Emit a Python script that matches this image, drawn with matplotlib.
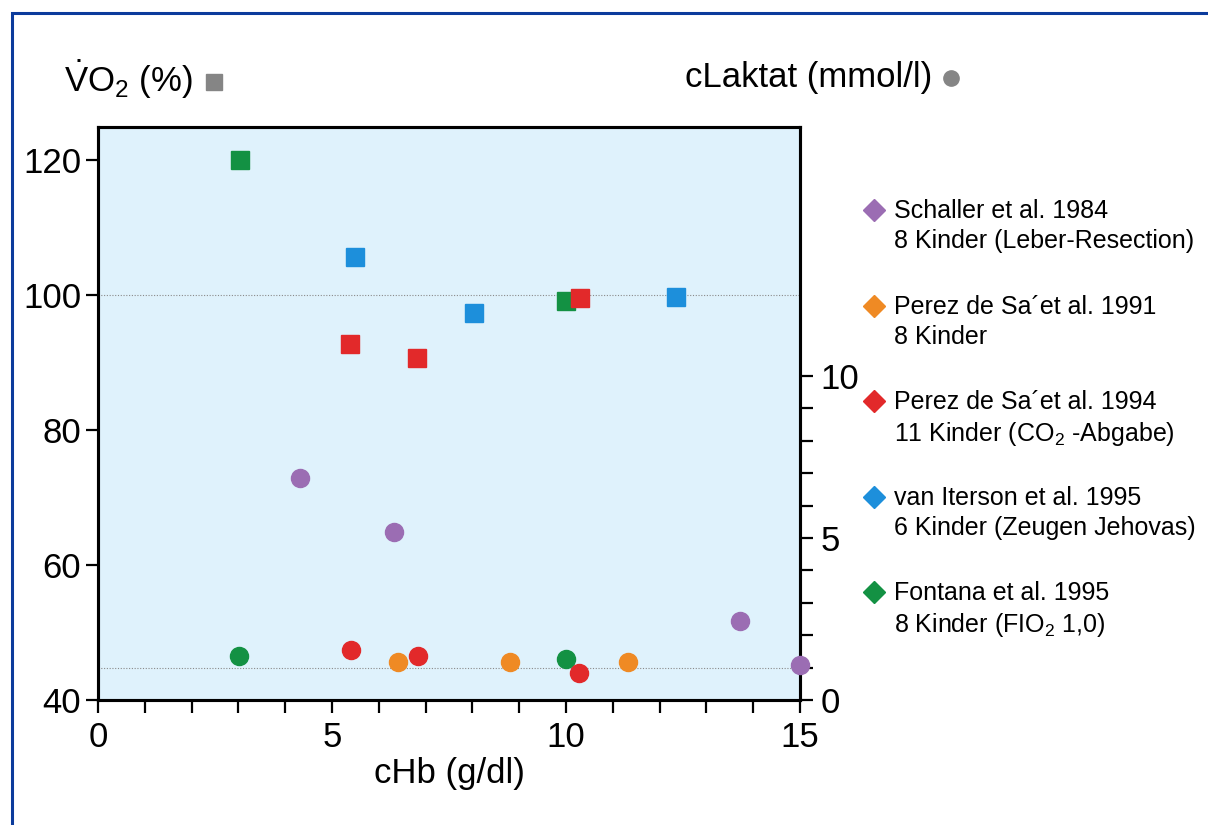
import matplotlib
matplotlib.use('Agg')
import matplotlib.pyplot as plt
from matplotlib.patches import Rectangle
from matplotlib.ticker import MultipleLocator, FixedLocator

plt.rcParams['font.family'] = ['Liberation Sans', 'DejaVu Sans']
plt.rcParams['mathtext.fontset'] = 'custom'
plt.rcParams['mathtext.rm'] = 'Liberation Sans'
plt.rcParams['mathtext.it'] = 'Liberation Sans'

# studies (legend order) and colours
studies = ['Schaller et al. 1984\n8 Kinder (Leber-Resection)',
           'Perez de Sa\u00b4et al. 1991\n8 Kinder',
           'Perez de Sa\u00b4et al. 1994\n11 Kinder (CO$_2$ -Abgabe)',
           'van Iterson et al. 1995\n6 Kinder (Zeugen Jehovas)',
           'Fontana et al. 1995\n8 Kinder (FIO$_2$ 1,0)']
colors = ['#9b6db3', '#ef8a24', '#e2292a', '#1d8fdb', '#139143']

# VO2 (%) vs cHb, squares, left axis  -> study index
vo2_study = [4, 3, 2, 2, 3, 4, 2, 3]
vo2_hb = [3.03, 5.5, 5.38, 6.82, 8.03, 10.0, 10.3, 12.35]
vo2_val = [120.0, 105.6, 92.7, 90.6, 97.4, 99.1, 99.5, 99.7]

# lactate (mmol/l) vs cHb, circles, right axis
lac_study = [0, 0, 0, 0, 4, 2, 1, 2, 1, 4, 2, 1]
lac_hb = [4.32, 6.32, 13.72, 15.0, 3.01, 5.41, 6.41, 6.84, 8.8, 10.0, 10.28, 11.32]
lac_val = [6.85, 5.2, 2.45, 1.08, 1.36, 1.55, 1.17, 1.36, 1.17, 1.27, 0.83, 1.17]

fig = plt.figure(figsize=(12.08, 8.25), dpi=100)
W, H = 1208, 825

# dark blue frame (left and top edges visible)
fig.patches.append(Rectangle((12 / W, -0.05), 1.1, 1 - 13 / H + 0.05,
                             transform=fig.transFigure, fill=False,
                             edgecolor='#0b3b9c', linewidth=2.2))

ax = fig.add_axes([98 / W, 1 - 700 / H, 702 / W, 573 / H])
ax.set_facecolor('#dff2fc')
ax.set_xlim(0, 15)
ax.set_ylim(40, 124.9)

ax.axhline(100, color='#8a8a8a', lw=0.8, ls=(0, (1, 1.5)), zorder=1)

for s, x, y in zip(vo2_study, vo2_hb, vo2_val):
    ax.plot(x, y, 's', ms=12.5, color=colors[s], mec=colors[s], zorder=3)

ax.xaxis.set_major_locator(MultipleLocator(5))
ax.xaxis.set_minor_locator(MultipleLocator(1))
ax.yaxis.set_major_locator(FixedLocator([40, 60, 80, 100, 120]))
ax.tick_params(axis='both', which='both', direction='out', width=1.6,
               length=9, labelsize=25, color='black')
ax.tick_params(axis='x', which='major', pad=6)
ax.tick_params(axis='y', pad=3)
for sp in ax.spines.values():
    sp.set_linewidth(2.2)
ax.set_xlabel('cHb (g/dl)', fontsize=25, labelpad=2)

ax2 = ax.twinx()
ax2.set_ylim(0, (700 - 127) / 32.4)
ax2.axhline(1.0, color='#8a8a8a', lw=0.8, ls=(0, (1, 1.5)), zorder=1)
for s, x, y in zip(lac_study, lac_hb, lac_val):
    ax2.plot(x, y, 'o', ms=13, color=colors[s], mec=colors[s], zorder=3,
             clip_on=False)
ax2.yaxis.set_major_locator(FixedLocator([0, 5, 10]))
ax2.yaxis.set_minor_locator(FixedLocator([1, 2, 3, 4, 6, 7, 8, 9]))
ax2.tick_params(axis='y', which='both', direction='out', width=1.6,
                length=9, labelsize=25, pad=6)
for sp in ax2.spines.values():
    sp.set_linewidth(2.2)

# axis headings
fig.text(64 / W, 1 - 80 / H, r'$\dot{\mathrm{V}}$O$_2$ (%)', fontsize=25,
         va='center', ha='left')
fig.add_artist(plt.Line2D([214 / W], [1 - 82 / H], marker='s', ms=12,
                          color='#858585', transform=fig.transFigure))
fig.text(932 / W, 1 - 78 / H, 'cLaktat (mmol/l)', fontsize=25,
         va='center', ha='right')
fig.add_artist(plt.Line2D([951 / W], [1 - 78 / H], marker='o', ms=11,
                          color='#858585', transform=fig.transFigure))

# legend
leg_y = [210, 306, 401, 497, 592]
for lab, c, y in zip(studies, colors, leg_y):
    fig.add_artist(plt.Line2D([874 / W], [1 - y / H], marker='D', ms=11,
                              color=c, transform=fig.transFigure))
    fig.text(894 / W, 1 - (y - 11) / H, lab, fontsize=18, va='top',
             ha='left', linespacing=1.3)

fig.savefig('out.png', dpi=100)
